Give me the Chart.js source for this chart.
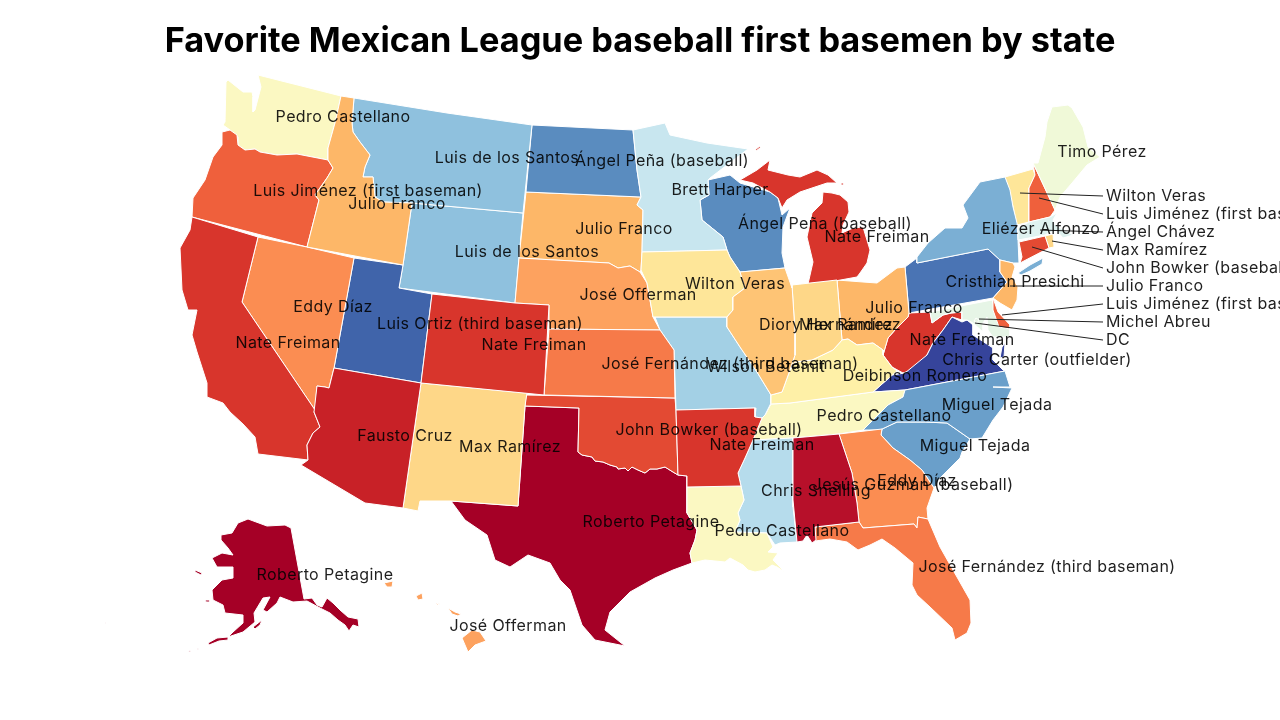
<!DOCTYPE html>
<html>
<head>
<meta charset="utf-8">
<title>Favorite Mexican League baseball first basemen by state</title>
<script src="https://cdn.jsdelivr.net/npm/chart.js@4/dist/chart.umd.min.js"></script>
<style>
  html, body { margin: 0; padding: 0; background: #fff; }
  canvas { display: block; }
</style>
</head>
<body>
<canvas id="mapa" width="1280" height="720"></canvas>
<script>
// estados y jugador de cada uno
const states = ['AL','AK','AZ','AR','CA','CO','CT','DE','DC','FL','GA','HI','ID','IL','IN','IA','KS','KY','LA','ME','MD','MA','MI','MN','MS','MO','MT','NE','NV','NH','NJ','NM','NY','NC','ND','OH','OK','OR','PA','RI','SC','SD','TN','TX','UT','VT','VA','WA','WV','WI','WY'];
const players = ['Jesús Guzmán (baseball)','Roberto Petagine','Fausto Cruz','Nate Freiman','Nate Freiman','Nate Freiman','John Bowker (baseball)','Luis Jiménez (first baseman)','DC','José Fernández (third baseman)','Eddy Díaz','José Offerman','Julio Franco','Diory Hernández','Max Ramírez','Wilton Veras','José Fernández (third baseman)','Deibinson Romero','Pedro Castellano','Timo Pérez','Michel Abreu','Ángel Chávez','Nate Freiman','Brett Harper','Chris Snelling','Wilson Betemit','Luis de los Santos','José Offerman','Eddy Díaz','Luis Jiménez (first baseman)','Julio Franco','Max Ramírez','Eliézer Alfonzo','Miguel Tejada','Ángel Peña (baseball)','Julio Franco','John Bowker (baseball)','Luis Jiménez (first baseman)','Cristhian Presichi','Max Ramírez','Miguel Tejada','Julio Franco','Pedro Castellano','Roberto Petagine','Luis Ortiz (third baseman)','Wilton Veras','Chris Carter (outfielder)','Pedro Castellano','Nate Freiman','Ángel Peña (baseball)','Luis de los Santos'];

// contornos (x,y,x,y...)
const AL = [[793,438,839,434,852,473,857,503,859,522,815,527,816,540,812,543,807,535,803,541,797,542,793,500]];
const AK = [
  [221,535,232,533,238,523,248,519,267,526,285,525,291,528,304,599,312,598,317,605,322,607,327,598,333,603,340,610,348,617,358,619,359,627,353,625,349,631,345,625,338,620,330,613,320,608,307,601,293,602,280,597,277,603,267,612,263,610,270,597,263,598,254,613,255,622,243,632,228,637,233,632,243,623,243,615,225,613,223,605,213,600,212,590,222,580,233,578,233,567,217,567,212,558,222,553,233,555,228,548,221,540],
  [228,637,217,638,208,643,209,645,219,641,228,640],
  [253,627,262,620,260,625,255,629],
  [195,570,202,573,201,575,195,572],
  [205,600,210,600,210,602,206,602],
  [188,652,191,650,190,652],
  [197,649,199,648,199,650],
  [105,622,106,622,106,624,105,624]
];
const AZ = [[334,368,421,383,403,508,365,503,301,465,308,460,307,445,313,433,320,427,314,412,317,386,325,387,329,388]];
const AR = [[676,410,755,408,755,417,762,418,753,440,745,458,738,473,741,486,687,487,687,476,678,475]];
const CA = [[192,217,258,237,242,302,315,410,314,412,320,427,313,433,307,445,308,460,258,454,255,437,243,424,230,412,223,403,207,397,207,383,197,352,192,335,197,310,188,310,182,290,180,248,190,230]];
const CO = [[432,294,515,303,549,305,544,395,421,383]];
const CT = [[1019,242,1045,236,1049,248,1020,263,1022,257]];
const DE = [[993,298,998,312,1010,325,1010,329,999,327,993,310]];
const DC = [[976,318,979,320,977,323,974,321]];
const FL = [[815,527,859,522,863,528,914,524,917,528,918,517,928,519,940,547,953,570,970,600,971,623,967,633,955,640,952,628,930,607,917,595,912,585,913,563,895,548,882,539,870,545,858,550,847,542,830,539,815,541]];
const GA = [[839,434,882,429,881,435,893,448,910,460,922,470,934,488,927,508,928,519,918,517,917,528,914,524,863,528,859,522,857,503,852,473]];
const HI = [
  [472,630,480,632,486,641,475,645,468,652,465,645,462,638],
  [448,608,455,612,461,614,458,616,452,614],
  [416,596,422,593,423,599,418,600],
  [384,583,393,581,392,587,387,587],
  [435,603,440,604,437,605]
];
const ID = [[341,96,354,98,352,123,353,132,360,142,370,155,365,167,363,177,373,177,375,197,383,202,412,203,403,265,307,247,319,200,315,195,327,178,333,168,328,160,328,148,335,123]];
const IL = [[740,272,785,268,792,288,792,285,795,332,795,355,790,370,782,392,771,395,757,372,740,347,727,327,727,317,733,310,733,297,745,288]];
const IN = [[792,285,837,280,842,340,833,350,812,360,795,362,790,370,795,355,795,332]];
const IA = [[642,252,727,250,730,257,740,272,745,288,733,297,733,310,727,317,653,317,647,283,641,270]];
const KS = [[549,329,660,330,667,340,674,350,675,398,544,395]];
const KY = [[842,340,848,339,857,345,873,343,883,350,883,355,892,367,897,371,873,392,790,403,771,404,771,395,782,392,790,370,795,362,812,360,833,350]];
const LA = [[687,487,741,486,744,500,738,513,740,520,735,532,767,533,773,547,768,552,778,553,773,560,785,572,777,567,772,565,765,570,755,572,748,570,743,565,730,558,725,562,705,560,692,563,690,553,695,540,697,530,687,513]];
const ME = [[1052,107,1068,105,1072,108,1083,127,1088,147,1100,157,1087,165,1072,183,1060,197,1055,210,1042,182,1033,163,1038,163,1045,137,1047,122]];
const MD = [[930,312,992,300,1000,325,1010,327,1010,337,993,337,988,330,987,317,983,323,983,332,973,323,967,320,962,320,962,312,951,313,943,315,932,323]];
const MA = [[1018,228,1029,222,1050,217,1057,213,1053,220,1055,225,1073,235,1063,238,1056,230,1045,235,1018,240]];
const MI = [
  [823,192,832,193,840,195,848,202,849,212,843,225,842,233,853,228,863,227,870,250,867,263,860,273,857,277,835,281,808,284,813,262,807,237,812,213,822,203],
  [740,180,757,170,770,160,768,170,788,175,800,177,817,170,828,175,837,183,827,183,815,187,800,192,787,200,782,208,778,198,770,192,753,183],
  [755,150,760,146,761,147,756,151],
  [841,183,844,183,844,185,841,185]
];
const MN = [[633,130,665,123,670,135,707,143,748,149,710,178,708,180,709,195,700,200,702,220,723,237,727,250,642,252,643,210,637,205,641,197,637,170]];
const MS = [[753,440,793,438,793,507,797,542,780,543,775,545,767,533,735,532,740,520,738,513,744,500,741,486,738,473,745,458]];
const MO = [[655,317,727,317,727,327,740,347,757,372,771,395,771,403,765,415,762,418,755,417,756,408,676,410,674,350,667,340,660,330]];
const MT = [[354,98,447,113,532,125,523,213,412,203,383,202,375,197,373,177,363,177,365,167,370,155,360,142,353,132,352,123]];
const NE = [[519,258,609,263,618,268,630,266,640,272,647,283,653,317,660,330,549,329,549,305,515,303]];
const NV = [[258,237,307,247,354,258,334,368,329,388,325,387,317,386,315,410,242,302]];
const NH = [[1033,163,1042,182,1055,210,1050,217,1029,222,1029,188,1035,175]];
const NJ = [[1000,260,1013,263,1015,267,1012,277,1018,287,1017,300,1012,310,1000,303,993,298,1007,282,1000,272]];
const NM = [[421,383,527,393,525,406,518,506,451,501,420,501,418,511,403,508]];
const NY = [
  [917,263,917,257,928,243,945,228,962,228,968,218,963,205,980,182,1005,177,1010,190,1013,207,1017,223,1018,240,1019,263,1013,263,1000,260,988,249],
  [1018,273,1030,265,1043,258,1042,264,1030,271,1021,275]
];
const NC = [[905,390,1005,371,1010,387,993,387,1012,388,1003,407,993,420,982,438,970,439,947,423,925,422,897,422,880,430,863,430,880,413,888,405,903,397]];
const ND = [[532,125,633,130,637,170,641,197,526,192]];
const OH = [[905,267,897,268,877,283,863,282,837,280,842,340,848,339,857,345,873,343,883,350,883,355,888,338,895,330,908,317,909,313]];
const OK = [[526,395,675,398,676,410,678,475,673,472,665,467,657,469,650,469,645,473,638,470,632,467,628,471,625,468,618,469,617,467,610,465,603,462,595,461,592,457,582,455,578,452,579,408,525,406]];
const OR = [[222,132,230,130,237,135,238,145,245,150,255,149,260,152,277,155,297,154,328,160,333,168,327,178,315,195,319,200,307,247,192,217,193,198,205,180,213,157,222,145]];
const PA = [[905,267,917,258,917,263,988,249,1000,260,1000,272,1007,282,993,298,909,313]];
const RI = [[1045,236,1053,234,1054,247,1049,248]];
const SC = [[882,429,897,422,925,422,947,423,970,439,962,452,960,458,940,478,934,488,922,470,910,460,893,448,881,435]];
const SD = [[526,192,641,197,637,205,643,210,642,252,641,270,640,272,630,266,618,268,609,263,519,258]];
const TN = [[771,404,790,403,873,392,905,390,903,397,888,405,880,413,863,430,839,434,793,438,753,440,762,418,765,415]];
const TX = [[525,406,579,408,578,452,582,455,592,457,595,461,603,462,610,465,617,467,618,469,625,468,628,471,632,467,638,470,645,473,650,469,657,469,665,467,673,472,678,475,687,476,687,513,697,530,695,540,690,553,692,563,673,570,655,578,630,592,610,612,605,630,625,646,595,640,582,625,570,590,560,580,550,563,528,555,510,567,495,560,487,535,465,520,451,501,518,506]];
const UT = [[354,258,403,265,399,288,432,294,421,383,334,368]];
const VT = [[1005,177,1033,169,1035,175,1029,188,1029,222,1017,225,1010,193]];
const VA = [
  [873,392,892,375,905,373,927,355,933,343,943,330,952,317,962,322,967,320,973,325,973,335,993,348,993,360,1003,370,1005,371,905,390],
  [1002,347,1005,343,1004,357,1000,358]
];
const WA = [[258,75,341,96,335,123,328,148,328,160,297,154,277,155,260,152,255,149,245,150,238,145,238,137,230,130,223,125,225,122,226,82,228,80,243,92,252,92,253,97,253,112,255,110,261,87]];
const WV = [[909,313,930,312,932,323,943,315,951,313,962,312,962,320,952,317,943,330,933,343,927,355,917,368,903,373,892,367,883,355,888,338,895,330,908,317]];
const WI = [[708,180,730,175,740,183,770,192,778,198,782,215,790,208,783,227,782,253,785,268,740,272,730,257,727,250,723,237,702,220,700,200,709,195]];
const WY = [[412,203,523,213,515,303,399,288,403,265]];
const outlines = [AL,AK,AZ,AR,CA,CO,CT,DE,DC,FL,GA,HI,ID,IL,IN,IA,KS,KY,LA,ME,MD,MA,MI,MN,MS,MO,MT,NE,NV,NH,NJ,NM,NY,NC,ND,OH,OK,OR,PA,RI,SC,SD,TN,TX,UT,VT,VA,WA,WV,WI,WY];

// colores por jugador
const playerNames = ['Roberto Petagine','Jesús Guzmán (baseball)','Fausto Cruz','Nate Freiman','John Bowker (baseball)','Luis Jiménez (first baseman)','José Fernández (third baseman)','Eddy Díaz','José Offerman','Julio Franco','Diory Hernández','Max Ramírez','Wilton Veras','Deibinson Romero','Pedro Castellano','Timo Pérez','Michel Abreu','DC','Ángel Chávez','Brett Harper','Chris Snelling','Wilson Betemit','Luis de los Santos','Eliézer Alfonzo','Miguel Tejada','Ángel Peña (baseball)','Cristhian Presichi','Luis Ortiz (third baseman)','Chris Carter (outfielder)'];
const playerColors = ['#a50026','#b7102a','#c82127','#d8352c','#e34a33','#ef603c','#f67a49','#fb8d52','#fda25f','#fdb768','#fec475','#fed788','#fee699','#fef0a7','#fbf8c2','#f0f9d8','#e6f5e6','#e8f4e4','#dff2f0','#c8e6ef','#b6dcec','#a3d0e5','#8fc1de','#7bafd4','#6a9fca','#5a8cbf','#4a74b4','#4064aa','#36449b'];

// etiquetas dentro del mapa
const labelStates = ['WA','MT','ND','MN','OR','ID','WI','MI','SD','WY','IA','NE','NV','UT','IL','IN','OH','PA','NY','ME','CA','CO','WV','VA','KS','MO','KY','TN','NC','SC','OK','AZ','NM','AR','MS','AL','GA','TX','LA','FL','AK','HI'];
const labelX = [343,507,662,720,368,397,825,877,624,527,735,638,333,480,826,850,914,1015,1041,1102,288,534,962,1037,730,766,915,884,997,975,709,405,510,762,816,913,917,651,782,1047,325,508];
const labelY = [117,158,161,190,191,204,224,237,229,252,284,295,307,324,325,325,308,282,229,152,343,345,340,360,364,367,376,416,405,446,430,436,447,445,491,485,481,522,531,567,575,626];

// etiquetas con linea guia a la derecha
const calloutStates = ['VT','NH','MA','RI','CT','NJ','DE','MD','DC'];
const calloutFromX = [1020,1039,1040,1052,1032,1010,1002,979,975];
const calloutFromY = [193,198,230,241,247,286,315,319,323];
const calloutTextY = [196,214,232,250,268,286,304,322,340];
const calloutToX = 1103;
const calloutTextX = 1106;

function pointsOf(ring) {
  const pts = [];
  for (let i = 0; i < ring.length; i += 2) pts.push({ x: ring[i], y: ring[i + 1] });
  pts.push({ x: ring[0], y: ring[1] });
  return pts;
}

const datasets = [];
calloutStates.forEach((s, i) => {
  datasets.push({
    data: [{ x: calloutFromX[i], y: calloutFromY[i] }, { x: calloutToX, y: calloutTextY[i] }],
    borderColor: '#222', borderWidth: 1, fill: false
  });
});
states.forEach((s, i) => {
  const color = playerColors[playerNames.indexOf(players[i])];
  outlines[i].forEach(ring => {
    datasets.push({
      label: s,
      data: pointsOf(ring),
      borderColor: '#fff',
      borderWidth: 1,
      backgroundColor: color,
      fill: 'shape'
    });
  });
});

const etiquetas = {
  id: 'etiquetas',
  afterDatasetsDraw(chart) {
    const { ctx, scales: { x, y } } = chart;
    ctx.save();
    ctx.font = '16px Inter, sans-serif';
    ctx.letterSpacing = '0.4px';
    ctx.fillStyle = 'rgba(0,0,0,0.88)';
    ctx.textBaseline = 'middle';
    ctx.textAlign = 'center';
    labelStates.forEach((s, i) => {
      ctx.fillText(players[states.indexOf(s)], x.getPixelForValue(labelX[i]), y.getPixelForValue(labelY[i]));
    });
    ctx.textAlign = 'left';
    calloutStates.forEach((s, i) => {
      ctx.fillText(players[states.indexOf(s)], x.getPixelForValue(calloutTextX), y.getPixelForValue(calloutTextY[i]));
    });
    ctx.restore();
  }
};

new Chart(document.getElementById('mapa'), {
  type: 'scatter',
  data: { datasets },
  plugins: [etiquetas],
  options: {
    responsive: false,
    devicePixelRatio: 1,
    animation: false,
    events: [],
    showLine: true,
    elements: { point: { radius: 0 }, line: { tension: 0 } },
    layout: { padding: 0 },
    plugins: {
      legend: { display: false },
      tooltip: { enabled: false },
      title: {
        display: true,
        text: 'Favorite Mexican League baseball first basemen by state',
        color: '#000',
        font: { family: 'Inter, sans-serif', size: 34.3, weight: 'bold', lineHeight: 1.2 },
        padding: { top: 21, bottom: 7.84 }
      }
    },
    scales: {
      x: { type: 'linear', min: 0, max: 1280, display: false },
      y: { type: 'linear', min: 70, max: 720, reverse: true, display: false }
    }
  }
});
</script>
</body>
</html>
